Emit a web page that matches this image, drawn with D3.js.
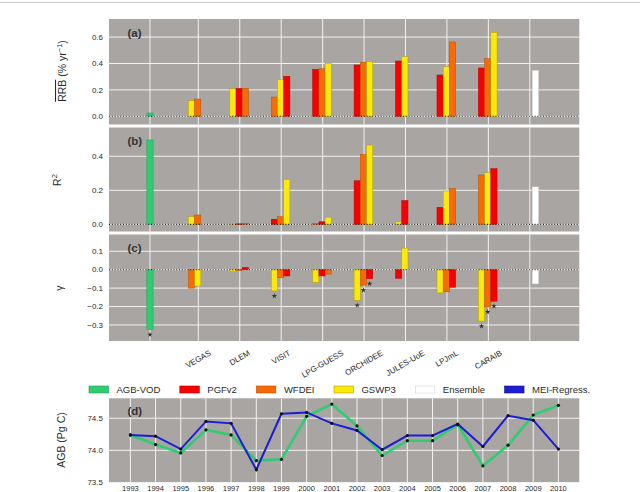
<!DOCTYPE html>
<html><head><meta charset="utf-8">
<script src="https://cdn.jsdelivr.net/npm/d3@7"></script>
<style>
body{margin:0;background:#fff;}
svg{display:block;font-family:"Liberation Sans",Arial,Helvetica,sans-serif;}
</style>
</head><body>
<svg id="chart" width="640" height="492"></svg>
<script>
// ---------------- DATA ----------------
const models = ["VEGAS","DLEM","VISIT","LPG-GUESS","ORCHIDEE","JULES-UoE","LPJmL","CARAIB"];
const forcings = ["PGFv2","WFDEI","GSWP3"];

// (a) RRB (% yr-1)
const rrbPGFv2 = [null, 0.211, 0.303, 0.356, 0.389, 0.419, 0.313, 0.366];
const rrbWFDEI = [0.131, 0.212, 0.146, 0.360, 0.410, null, 0.563, 0.436];
const rrbGSWP3 = [0.118, 0.209, 0.280, 0.400, 0.414, 0.451, 0.376, 0.636];
const rrbObs = 0.025, rrbEns = 0.348;

// (b) R2
const r2PGFv2 = [null, 0.003, 0.030, 0.015, 0.256, 0.140, 0.100, 0.327];
const r2WFDEI = [0.055, 0.005, 0.045, 0.004, 0.410, null, 0.210, 0.290];
const r2GSWP3 = [0.045, 0.001, 0.265, 0.042, 0.466, 0.015, 0.196, 0.303];
const r2Obs = 0.496, r2Ens = 0.220;

// (c) gamma
const gamPGFv2 = [null, 0.012, -0.034, -0.034, -0.049, -0.047, -0.095, -0.171];
const gamWFDEI = [-0.100, -0.005, -0.044, -0.024, -0.084, null, -0.120, -0.202];
const gamGSWP3 = [-0.089, -0.010, -0.115, -0.069, -0.166, 0.117, -0.126, -0.279];
const gamObs = -0.325, gamEns = -0.077;
// significance (*) flags for gamma
const gamSigPGFv2 = [false,false,false,false,true,false,false,true];
const gamSigWFDEI = [false,false,false,false,true,false,false,true];
const gamSigGSWP3 = [false,false,true,false,true,false,false,true];
const gamSigObs = true;

// tick values
const rrbTicks = [0.0, 0.2, 0.4, 0.6];
const r2Ticks = [0.0, 0.2, 0.4];
const gamTicks = [0.1, 0.0, -0.1, -0.2, -0.3];
const agbTicks = [73.5, 74.0, 74.5];

// (d) AGB (Pg C)
const years = [1993,1994,1995,1996,1997,1998,1999,2000,2001,2002,2003,2004,2005,2006,2007,2008,2009,2010];
const agbVOD = [74.24,74.09,73.96,74.32,74.24,73.84,73.86,74.53,74.72,74.38,73.92,74.15,74.15,74.40,73.76,74.08,74.55,74.70];
const meiRegress = [74.24,74.22,74.02,74.45,74.42,73.70,74.57,74.59,74.42,74.31,74.01,74.23,74.23,74.41,74.06,74.54,74.47,74.02];

const legendLabels = ["AGB-VOD","PGFv2","WFDEI","GSWP3","Ensemble","MEI-Regress."];

// ---------------- STYLE ----------------
const col = {"AGB-VOD":"#2fcc72", PGFv2:"#f70000", WFDEI:"#f76a08", GSWP3:"#fbe80c", Ensemble:"#ffffff", "MEI-Regress.":"#1d1dd2"};
const edge = {"AGB-VOD":"#22a057", PGFv2:"#b80000", WFDEI:"#b85000", GSWP3:"#b0a000", Ensemble:"#d6d6d6", "MEI-Regress.":"#111188"};
const bg = "#a8a5a2";
const textCol = "#2a2a2a";

const svg = d3.select("#chart");
svg.append("line").attr("x1",0).attr("x2",640).attr("y1",2.5).attr("y2",2.5)
  .attr("stroke","#cacaca").attr("stroke-width",1);

const L = 109, R = 579.3;
// category index scale: VEGAS=1 ... CARAIB=8, Ensemble=9
const x = d3.scaleLinear().domain([-1.156, 10.195]).range([L, R]);
const obsPos = -0.167, ensPos = 9;
const bw = 0.15;

const panels = [
  {label:"(a)", top:19, bottom:124.5, domain:[-0.062,0.737], ticks:rrbTicks,
   series:{PGFv2:rrbPGFv2, WFDEI:rrbWFDEI, GSWP3:rrbGSWP3}, obs:rrbObs, ens:rrbEns},
  {label:"(b)", top:127.5, bottom:231.5, domain:[-0.042,0.569], ticks:r2Ticks,
   series:{PGFv2:r2PGFv2, WFDEI:r2WFDEI, GSWP3:r2GSWP3}, obs:r2Obs, ens:r2Ens},
  {label:"(c)", top:234.5, bottom:341, domain:[-0.387,0.191], ticks:gamTicks,
   series:{PGFv2:gamPGFv2, WFDEI:gamWFDEI, GSWP3:gamGSWP3}, obs:gamObs, ens:gamEns,
   sig:{PGFv2:gamSigPGFv2, WFDEI:gamSigWFDEI, GSWP3:gamSigGSWP3}, obsSig:gamSigObs}
];

const fmt = d3.format(".1f");
const star = d3.symbol().type(d3.symbolStar).size(9);

panels.forEach(p => {
  const y = d3.scaleLinear().domain(p.domain).range([p.bottom, p.top]);
  const g = svg.append("g");
  g.append("rect").attr("x",L).attr("y",p.top).attr("width",R-L).attr("height",p.bottom-p.top).attr("fill",bg);
  g.selectAll(".hg").data(p.ticks).enter().append("line")
    .attr("x1",L).attr("x2",R).attr("y1",d=>y(d)).attr("y2",d=>y(d))
    .attr("stroke","#f2f2f2").attr("stroke-width",1);
  const vpos = [obsPos].concat(d3.range(1,10));
  g.selectAll(".vg").data(vpos).enter().append("line")
    .attr("x1",d=>x(d)).attr("x2",d=>x(d)).attr("y1",p.top).attr("y2",p.bottom)
    .attr("stroke","#f2f2f2").attr("stroke-width",1);
  g.selectAll(".tl").data(p.ticks).enter().append("text")
    .attr("x",103).attr("y",d=>y(d)).attr("dy","0.35em").attr("text-anchor","end")
    .attr("font-size",8).attr("fill",textCol).text(d=>fmt(d));
  const bars = [];
  models.forEach((m,i) => {
    const entries = forcings.map(f => ({f, v:p.series[f][i], s: p.sig ? p.sig[f][i] : false}))
      .filter(e => e.v !== null).sort((a,b)=>a.v-b.v);
    entries.forEach((e,slot) => bars.push({pos:(i+1)+(slot-1)*bw-0.015, v:e.v, c:e.f, s:e.s}));
  });
  bars.push({pos:obsPos, v:p.obs, c:"AGB-VOD", s:!!p.obsSig});
  bars.push({pos:ensPos+bw-0.015, v:p.ens, c:"Ensemble", s:false});
  g.selectAll(".bar").data(bars).enter().append("rect")
    .attr("x",d=>x(d.pos-bw/2)).attr("width",x(bw)-x(0))
    .attr("y",d=>y(Math.max(0,d.v))).attr("height",d=>Math.abs(y(d.v)-y(0)))
    .attr("fill",d=>col[d.c]).attr("stroke",d=>edge[d.c]).attr("stroke-width",0.5);
  g.append("line").attr("x1",L).attr("x2",R).attr("y1",y(0)).attr("y2",y(0))
    .attr("stroke","#1a1a1a").attr("stroke-width",1.1).attr("stroke-dasharray","1,1.8");
  g.selectAll(".st").data(bars.filter(d=>d.s)).enter().append("path")
    .attr("d",star).attr("fill","#333")
    .attr("transform",d=>`translate(${x(d.pos)},${y(d.v)+(d.v<0?5:-5)})`);
  g.append("text").attr("x",127.5).attr("y",p.top+13.5).attr("dy","0.35em")
    .attr("font-size",11.5).attr("font-weight","bold").attr("fill","#333").text(p.label);
});

const t1 = svg.append("text").attr("transform","translate(66,71) rotate(-90)")
  .attr("text-anchor","middle").attr("font-size",10.5).attr("fill",textCol);
t1.append("tspan").attr("text-decoration","overline").text("RRB");
t1.append("tspan").text(" (% yr");
t1.append("tspan").attr("dy",-4).attr("font-size",7.5).text("−1");
t1.append("tspan").attr("dy",4).text(")");
const t2 = svg.append("text").attr("transform","translate(61,180) rotate(-90)")
  .attr("text-anchor","middle").attr("font-size",10.5).attr("fill",textCol);
t2.append("tspan").text("R");
t2.append("tspan").attr("dy",-4).attr("font-size",7.5).text("2");
svg.append("text").attr("transform","translate(63,288) rotate(-90)")
  .attr("text-anchor","middle").attr("font-size",10.5).attr("fill",textCol).text("γ");

const labG = svg.append("g");
models.forEach((m,i) => {
  const t = labG.append("text").attr("font-size",8).attr("fill",textCol)
    .attr("text-anchor","middle").attr("dominant-baseline","central").text(m);
  const w = t.node().getComputedTextLength();
  const h = 9.5;
  const a = 30*Math.PI/180;
  const bh = w*Math.sin(a) + h*Math.cos(a);
  t.attr("transform",`translate(${x(i+1)},${348.3+bh/2}) rotate(-30)`);
});

const lg = svg.append("g");
let lx = 89;
legendLabels.forEach(name => {
  lg.append("rect").attr("x",lx).attr("y",386).attr("width",19.5).attr("height",7)
    .attr("fill",col[name]).attr("stroke",edge[name]).attr("stroke-width",0.6);
  const t = lg.append("text").attr("x",lx+27.5).attr("y",389.7).attr("dy","0.35em")
    .attr("font-size",9.5).attr("fill",textCol).text(name);
  lx = lx + 27.5 + t.node().getComputedTextLength() + 19.5;
});

const dTop = 398.3, dBot = 482.5;
const xd = d3.scaleLinear().domain([1992.15, 2010.83]).range([L, R]);
const yd = d3.scaleLinear().domain([73.5, 74.81]).range([dBot, dTop]);
const gd = svg.append("g");
gd.append("rect").attr("x",L).attr("y",dTop).attr("width",R-L).attr("height",dBot-dTop).attr("fill",bg);
gd.selectAll(".hg").data(agbTicks).enter().append("line")
  .attr("x1",L).attr("x2",R).attr("y1",d=>yd(d)).attr("y2",d=>yd(d))
  .attr("stroke","#f2f2f2").attr("stroke-width",1);
gd.selectAll(".vg").data(years).enter().append("line")
  .attr("x1",d=>xd(d)).attr("x2",d=>xd(d)).attr("y1",dTop).attr("y2",dBot)
  .attr("stroke","#f2f2f2").attr("stroke-width",1);
gd.selectAll(".tl").data(agbTicks).enter().append("text")
  .attr("x",103).attr("y",d=>yd(d)).attr("dy","0.35em").attr("text-anchor","end")
  .attr("font-size",8).attr("fill",textCol).text(d=>fmt(d));
gd.selectAll(".yl").data(years).enter().append("text")
  .attr("x",d=>xd(d)).attr("y",490.5).attr("text-anchor","middle")
  .attr("font-size",7.5).attr("fill",textCol).text(d=>d);
const line = (arr) => d3.line().x((d,i)=>xd(years[i])).y(d=>yd(d))(arr);
gd.append("path").attr("d",line(agbVOD)).attr("fill","none").attr("stroke",col["AGB-VOD"]).attr("stroke-width",2.6);
gd.append("path").attr("d",line(meiRegress)).attr("fill","none").attr("stroke",col["MEI-Regress."]).attr("stroke-width",2);
[agbVOD, meiRegress].forEach(arr => {
  gd.selectAll(null).data(arr).enter().append("circle")
    .attr("cx",(d,i)=>xd(years[i])).attr("cy",d=>yd(d)).attr("r",1.6).attr("fill","#111");
});
gd.append("text").attr("x",127.5).attr("y",411).attr("dy","0.35em")
  .attr("font-size",11.5).attr("font-weight","bold").attr("fill","#333").text("(d)");
svg.append("text").attr("transform","translate(65,440) rotate(-90)")
  .attr("text-anchor","middle").attr("font-size",10.5).attr("fill",textCol).text("AGB (Pg C)");
</script>
</body></html>
